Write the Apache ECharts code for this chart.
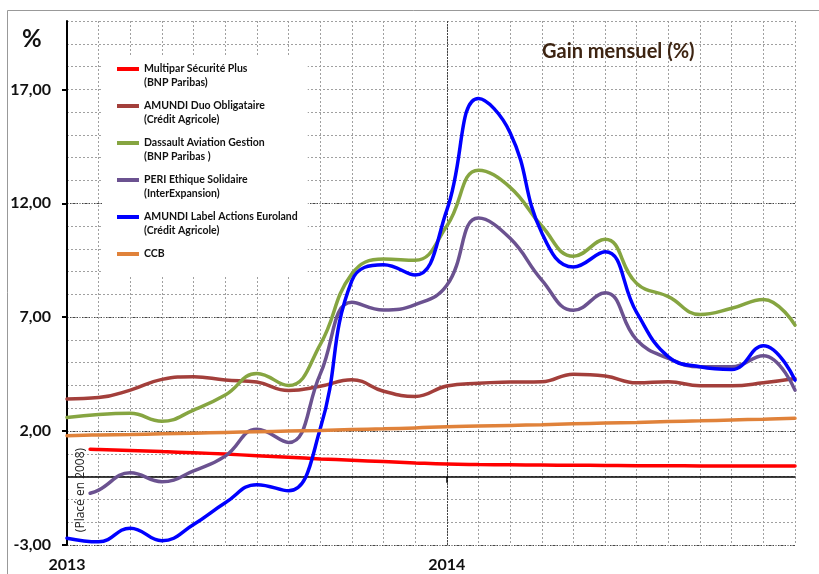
<!DOCTYPE html>
<html><head><meta charset="utf-8">
<script src="https://cdn.jsdelivr.net/npm/echarts@6/dist/echarts.min.js"></script>
<style>html,body{margin:0;padding:0;background:#fff}#c{width:819px;height:574px}</style>
</head><body><div id="c"></div>
<script>
const months = [0,1,2,3,4,5,6,7,8,9,10,11,12,13,14,15,16,17,18,19,20,21,22,23];
const monthsLate = [0.73,1,2,3,4,5,6,7,8,9,10,11,12,13,14,15,16,17,18,19,20,21,22,23];
const seriesNames = [
  'Multipar Sécurité Plus\n(BNP Paribas)',
  'AMUNDI Duo Obligataire\n(Crédit Agricole)',
  'Dassault Aviation Gestion\n(BNP Paribas )',
  'PERI Ethique Solidaire\n(InterExpansion)',
  'AMUNDI Label Actions Euroland\n(Crédit Agricole)',
  'CCB\n'
];
const multipar = [1.2,1.19,1.15,1.1,1.05,0.99,0.92,0.85,0.78,0.72,0.66,0.6,0.55,0.53,0.52,0.51,0.5,0.49,0.48,0.48,0.47,0.47,0.47,0.47];
const amundiDuo = [3.41,3.47,3.8,4.27,4.39,4.24,4.15,3.78,3.97,4.25,3.75,3.52,3.98,4.1,4.15,4.17,4.5,4.42,4.12,4.17,3.99,3.99,4.12,4.31];
const dassault = [2.6,2.73,2.78,2.43,2.92,3.58,4.53,4.0,5.8,8.9,9.55,9.5,11.0,13.45,12.7,11.0,9.67,10.42,8.48,7.9,7.12,7.39,7.78,6.65];
const peri = [-0.73,-0.59,0.17,-0.22,0.25,0.9,2.08,1.5,4.5,7.65,7.31,7.55,8.4,11.35,10.46,8.63,7.3,8.07,6.0,5.19,4.82,4.82,5.31,3.8];
const amundiLabel = [-2.7,-2.86,-2.26,-2.81,-2.1,-1.15,-0.35,-0.62,2.1,8.6,9.3,8.85,11.7,16.6,15.1,10.7,9.2,9.87,7.2,5.26,4.82,4.7,5.75,4.24];
const ccb = [1.8,1.83,1.85,1.88,1.91,1.94,1.97,2.0,2.03,2.07,2.1,2.14,2.19,2.22,2.25,2.28,2.32,2.35,2.38,2.42,2.45,2.49,2.52,2.56];
const yTicks = [-3,2,7,12,17];
const xTickValues = [0,12];
const xTickLabels = ['2013','2014'];
const colors = ['#ff0000','#a33f3b','#86a541','#6b5290','#0000ff','#e0823a'];

const pair = (xs, ys) => ys.map((v,i)=>[xs[i], v]);
const seriesData = [
  pair(monthsLate, multipar),
  pair(months, amundiDuo),
  pair(months, dassault),
  pair(monthsLate, peri),
  pair(months, amundiLabel),
  pair(months, ccb)
];

const font = 'Lato, "Open Sans", sans-serif';
const lightGrid = {color:'#a0a0a0', type:[2,2], width:1};
const darkGrid = {color:'#444', type:[2,1], width:1};
const chart = echarts.init(document.getElementById('c'), null, {renderer:'canvas'});
chart.setOption({
  animation: false,
  backgroundColor: '#fff',
  title: [
    {text:'Gain mensuel (%)', left:542, top:42, padding:0,
     textStyle:{fontFamily:font, fontWeight:'bold', fontSize:20, color:'#3d2412'}},
    {text:'%', left:22, top:27, padding:0,
     textStyle:{fontFamily:font, fontWeight:'bold', fontSize:24, color:'#111'}}
  ],
  legend: {
    orient:'vertical', left:103, top:55,
    backgroundColor:'#fff',
    padding:[7,10,2,14],
    itemWidth:22, itemHeight:18, itemGap:9,
    icon:'path://M0,0L22,0L22,4L0,4Z M0,18L0.01,18L0.01,18.01Z',
    data: seriesNames,
    textStyle:{fontFamily:font, fontWeight:'bold', fontSize:10.5, lineHeight:14, color:'#111'}
  },
  grid: {left:67, right:24, top:21, bottom:29, containLabel:false},
  xAxis: [
    {type:'value', min:0, max:23, interval:1, position:'bottom',
     axisLine:{show:true, onZero:true, lineStyle:{color:'#000', width:1.5}},
     axisTick:{show:false},
     axisLabel:{show:false},
     splitLine:{show:true, showMinLine:false, lineStyle:lightGrid}},
    {type:'value', min:0, max:23, interval:12, position:'bottom',
     axisLine:{show:false, onZero:false},
     axisTick:{show:false},
     axisLabel:{show:true, customValues:xTickValues, margin:12,
       formatter:(v)=>xTickLabels[xTickValues.indexOf(v)] || '',
       fontFamily:font, fontWeight:'bold', fontSize:16, color:'#111'},
     splitLine:{show:true, showMinLine:false, showMaxLine:false, lineStyle:darkGrid}},
    {type:'value', min:0, max:23, interval:12, position:'bottom',
     axisLine:{show:true, onZero:true, lineStyle:{color:'#000', width:0, opacity:0}},
     axisTick:{show:true, customValues:[12], length:6, lineStyle:{color:'#000', width:1.5}},
     axisLabel:{show:false},
     splitLine:{show:false}}
  ],
  yAxis: [
    {type:'value', min:-3, max:20, interval:5, position:'left',
     axisLine:{show:true, lineStyle:{color:'#000', width:2}},
     axisTick:{show:true, customValues:yTicks, length:5, lineStyle:{color:'#000', width:2}},
     axisLabel:{show:true, customValues:yTicks, margin:16,
       formatter:(v)=>v.toFixed(2).replace('.',','),
       fontFamily:font, fontWeight:'bold', fontSize:16, color:'#111'},
     splitLine:{show:true, showMaxLine:false, lineStyle:darkGrid}},
    {type:'value', min:-3, max:20, interval:1, position:'left',
     axisLine:{show:false}, axisTick:{show:false}, axisLabel:{show:false},
     splitLine:{show:true, lineStyle:lightGrid}}
  ],
  series: seriesNames.map((n,i)=>({
    name:n, type:'line', xAxisIndex:0, yAxisIndex:0,
    data: seriesData[i], smooth:0.45, showSymbol:false, symbol:'none',
    color: colors[i],
    lineStyle:{color:colors[i], width:3.5, cap:'round'},
    z: 3+i
  })),
  graphic: [
    {type:'rect', silent:true, z:-1, shape:{x:7.5, y:10.5, width:830, height:620},
     style:{fill:'none', stroke:'#999', lineWidth:1}},
    {type:'text', silent:true, x:81, y:490, rotation:Math.PI/2, z:20,
     style:{text:'(Placé en 2008)', fontFamily:'"Open Sans", sans-serif', fontSize:12, fill:'#222', align:'center', verticalAlign:'middle'}}
  ]
});
</script></body></html>
